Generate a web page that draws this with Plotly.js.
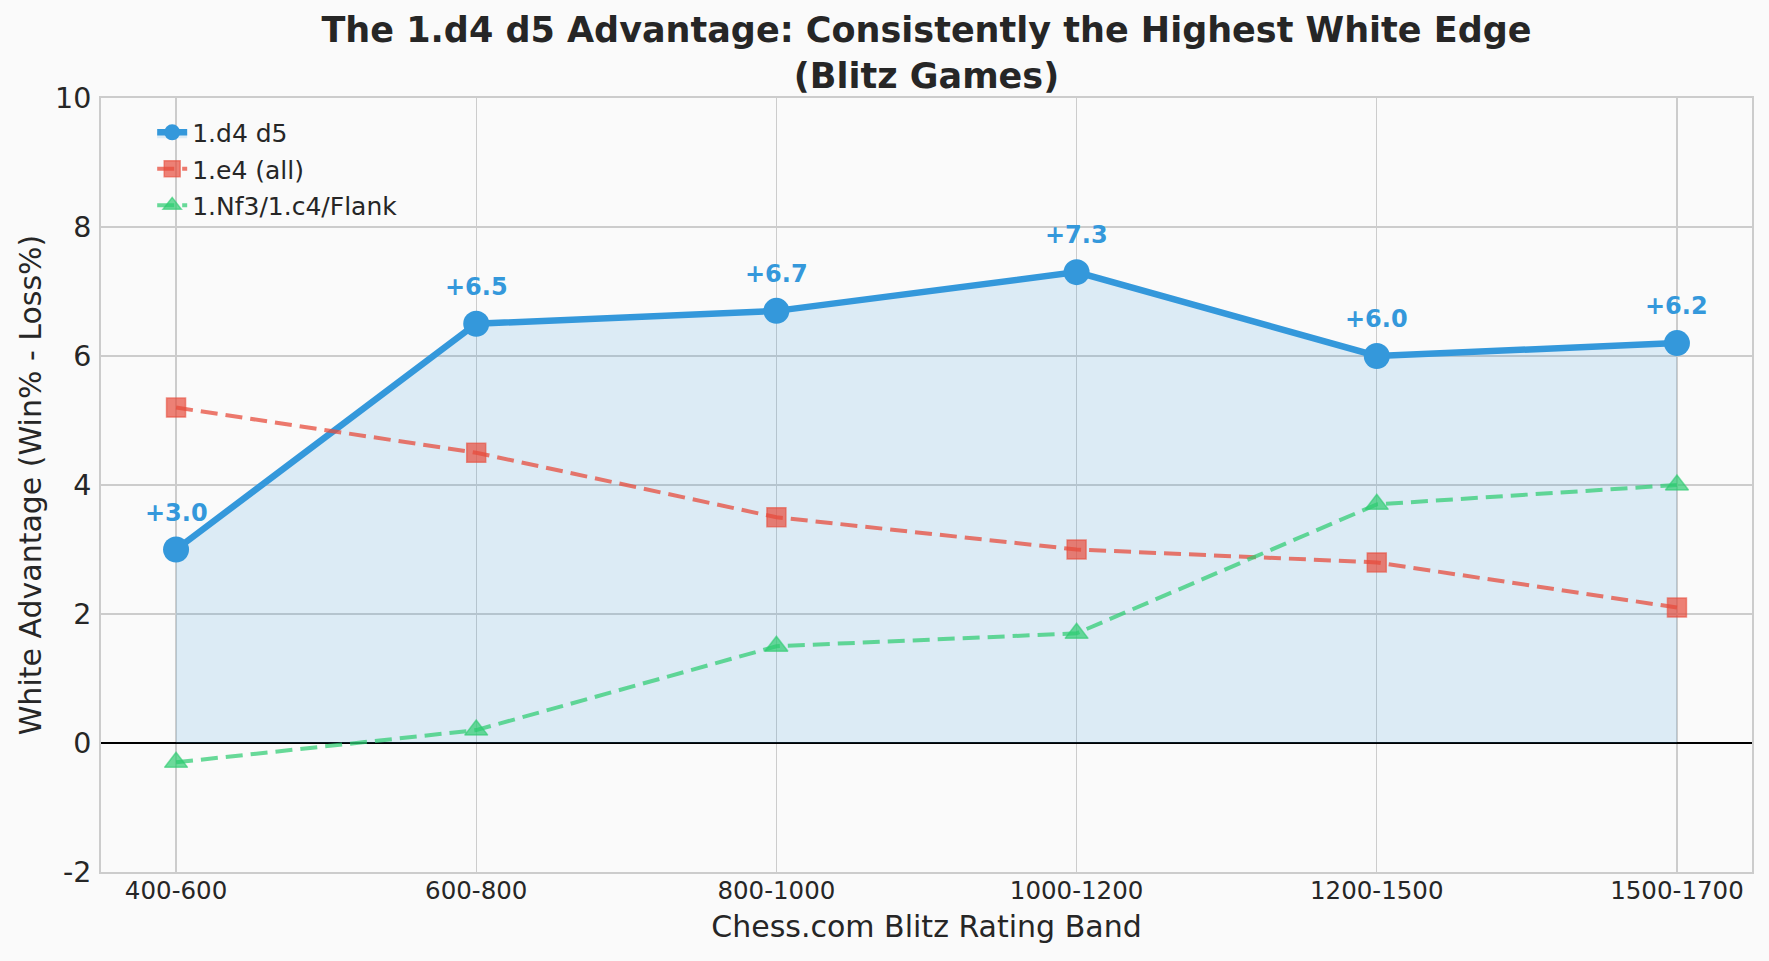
<!DOCTYPE html>
<html>
<head>
<meta charset="utf-8">
<script src="https://cdn.plot.ly/plotly-3.0.1.min.js"></script>
<style>
html,body{margin:0;padding:0;background:#fafafa;}
#chart{width:1769px;height:961px;}
</style>
</head>
<body>
<div id="chart"></div>
<script>
const categories = ["400-600", "600-800", "800-1000", "1000-1200", "1200-1500", "1500-1700"];
const d4d5 = [3.0, 6.5, 6.7, 7.3, 6.0, 6.2];
const e4all = [5.2, 4.5, 3.5, 3.0, 2.8, 2.1];
const flank = [-0.3, 0.2, 1.5, 1.7, 3.7, 4.0];
const seriesNames = ["1.d4 d5", "1.e4 (all)", "1.Nf3/1.c4/Flank"];
const yTicks = [-2, 0, 2, 4, 6, 8, 10];

const FONT = "DejaVu Sans, Verdana, sans-serif";
const BLUE = "#3498db";

const traces = [
  {
    x: categories, y: d4d5, name: seriesNames[0], legendgroup: "a", type: "scatter", mode: "lines+markers",
    line: {color: BLUE, width: 6.5},
    marker: {color: BLUE, size: 26, symbol: "circle"},
    fill: "tozeroy", fillcolor: "rgba(52,152,219,0.15)"
  },
  {
    x: categories, y: e4all, name: seriesNames[1], legendgroup: "b", type: "scatter", mode: "lines+markers",
    line: {color: "rgba(231,76,60,0.75)", width: 4, dash: "17px,8px"},
    marker: {color: "rgba(231,76,60,0.7)", size: 19, symbol: "square", line: {color: "rgba(231,76,60,0.6)", width: 1.5}}
  },
  {
    x: categories, y: flank, name: seriesNames[2], legendgroup: "c", type: "scatter", mode: "lines+markers",
    line: {color: "rgba(46,204,113,0.72)", width: 4, dash: "17px,8px"},
    marker: {color: "rgba(46,204,113,0.7)", size: 20, symbol: "triangle-up", line: {color: "rgba(46,204,113,0.6)", width: 1.5}}
  }
];

const annotations = categories.map((c, i) => ({
  x: c, y: d4d5[i], xref: "x", yref: "y",
  text: "+" + d4d5[i].toFixed(1),
  showarrow: false, yshift: 37, yanchor: "middle",
  font: {family: FONT, size: 24, color: BLUE, weight: "bold"}
}));

const layout = {
  width: 1769, height: 961,
  paper_bgcolor: "#fafafa", plot_bgcolor: "#fafafa",
  margin: {l: 101, r: 17, t: 98, b: 89},
  font: {family: FONT, color: "#262626"},
  title: {
    text: "<b>The 1.d4 d5 Advantage: Consistently the Highest White Edge<br>(Blitz Games)</b>",
    font: {family: FONT, size: 35, color: "#262626"},
    x: 0.5, xref: "paper", xanchor: "center",
    y: 1 - 42/961, yref: "container", yanchor: "middle"
  },
  xaxis: {
    type: "category", range: [-0.25, 5.25],
    showgrid: true, gridcolor: "#cccccc", gridwidth: 1.3,
    showline: true, linecolor: "#cccccc", linewidth: 2, mirror: true,
    ticks: "", ticklabelstandoff: -4,
    tickfont: {family: FONT, size: 24.5, color: "#262626"},
    zeroline: false,
    title: {text: "Chess.com Blitz Rating Band", font: {family: FONT, size: 30, color: "#262626"}, standoff: 12},
    automargin: false, fixedrange: true
  },
  yaxis: {
    range: [-2, 10], tickvals: yTicks, ticktext: yTicks.map(String),
    showgrid: true, gridcolor: "#cccccc", gridwidth: 1.3,
    showline: true, linecolor: "#cccccc", linewidth: 2, mirror: true,
    ticks: "", ticklabelstandoff: 2,
    tickfont: {family: FONT, size: 28.5, color: "#262626"},
    zeroline: true, zerolinecolor: "#000000", zerolinewidth: 1.6,
    title: {text: "White Advantage (Win% - Loss%)", font: {family: FONT, size: 30, color: "#262626"}, standoff: 5},
    automargin: false, fixedrange: true
  },
  legend: {
    x: 0.031, y: 0.985, xanchor: "left", yanchor: "top",
    bgcolor: "rgba(0,0,0,0)", borderwidth: 0,
    font: {family: FONT, size: 25, color: "#262626"},
    itemsizing: "trace", tracegroupgap: 1
  },
  annotations: annotations,
  showlegend: true
};

Plotly.newPlot("chart", traces, layout, {displayModeBar: false, staticPlot: true});
</script>
</body>
</html>
